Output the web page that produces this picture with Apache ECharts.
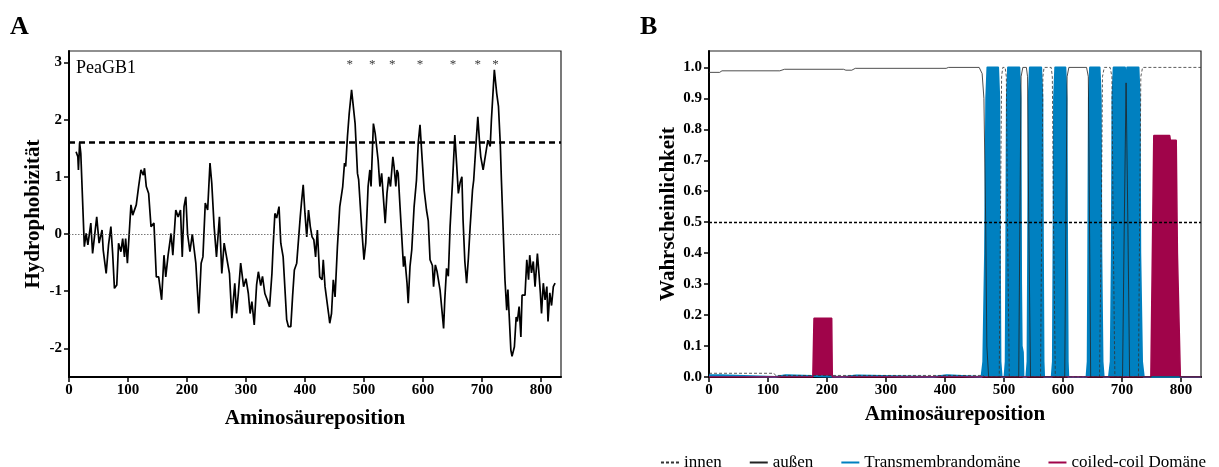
<!DOCTYPE html>
<html>
<head>
<meta charset="utf-8">
<script src="https://cdn.jsdelivr.net/npm/echarts@6/dist/echarts.min.js"></script>
<style>
  html, body { margin: 0; padding: 0; background: #fff; }
  #chart { width: 1219px; height: 467px; }
</style>
</head>
<body>
<div id="chart"></div>
<script>
// ---- Panel A: hydrophobicity profile of PeaGB1 ----
const hydroPos = [12,15,16,18,20,26,29,32,37,40,47,51,56,58,63,67,71,74,77,81,84,88,91,94,96,99,
  105,108,114,118,122,126,128,131,135,139,144,148,152,157,161,164,168,173,176,181,185,189,192,195,198,
  201,205,209,212,215,220,224,227,231,235,239,242,246,250,255,259,263,266,272,276,281,284,287,291,296,
  300,304,307,310,314,318,321,325,328,332,336,340,344,346,349,352,356,359,363,369,372,376,379,382,386,
  392,394,397,400,403,406,409,412,415,418,421,425,429,431,434,440,442,445,448,451,455,459,464,467,469,
  472,475,479,485,489,491,496,500,503,507,510,512,516,519,524,527,530,536,539,542,545,549,551,554,556,
  558,561,567,569,573,575,578,581,585,589,592,595,598,602,606,609,612,616,618,621,624,629,635,637,640,
  643,646,650,654,657,660,663,666,668,671,674,677,680,684,686,690,693,696,698,702,705,710,714,716,721,
  725,728,731,733,736,739,742,744,746,749,751,755,758,760,763,766,768,773,776,779,781,784,787,790,794,
  797,799,801,804,807,810,812,815,818,821,824];
const hydroVal = [1.44,1.35,1.12,1.60,1.41,-0.22,0.01,-0.19,0.19,-0.34,0.30,-0.16,0.07,-0.28,-0.69,-0.19,0.13,-0.34,-0.95,-0.89,-0.16,-0.31,-0.08,-0.40,-0.08,-0.51,
  0.51,0.33,0.51,0.83,1.12,1.03,1.15,0.83,0.71,0.13,0.19,-0.75,-0.75,-1.15,-0.37,-0.75,-0.37,0.01,-0.37,0.42,0.30,0.42,-0.40,0.48,0.65,
  0.00,-0.31,0.00,-0.03,-0.51,-1.39,-0.51,-0.40,0.54,0.42,1.24,0.89,0.13,-0.40,0.30,-0.69,-0.16,-0.34,-0.69,-1.47,-0.86,-1.39,-1.04,-0.51,-0.92,
  -0.78,-1.04,-1.39,-1.18,-1.59,-0.89,-0.66,-0.90,-0.74,-1.04,-1.15,-1.27,-0.69,-0.22,0.36,0.28,0.48,-0.16,-0.40,-1.50,-1.62,-1.62,-1.09,-0.63,-0.51,
  0.30,0.54,0.86,0.36,-0.05,0.42,0.13,-0.05,-0.10,-0.40,0.07,-0.75,-0.80,-0.45,-0.92,-1.39,-1.56,-1.39,-0.80,-1.10,-0.22,0.48,0.83,1.24,1.18,
  1.70,2.11,2.52,1.93,1.06,0.95,0.13,-0.45,-0.16,0.83,1.12,0.83,1.93,1.76,1.29,0.83,1.06,0.19,0.71,1.00,0.83,1.35,1.18,0.83,1.12,
  1.06,0.50,-0.57,-0.39,-0.86,-1.21,-0.57,-0.28,0.48,0.94,1.59,1.91,1.41,0.77,0.42,0.23,-0.45,-0.55,-0.92,-0.54,-0.66,-0.98,-1.65,-1.15,-0.60,
  -0.74,0.13,0.89,1.73,1.24,0.71,0.90,1.00,0.24,-0.48,-0.86,-0.42,0.13,0.77,0.94,1.59,2.05,1.59,1.35,1.12,1.15,1.64,1.53,1.99,2.87,
  2.46,2.23,1.59,0.94,0.07,-0.80,-1.33,-0.97,-1.39,-2.03,-2.14,-1.97,-1.45,-1.53,-1.27,-1.80,-1.07,-1.07,-0.45,-0.80,-0.37,-0.68,-0.48,-0.92,-0.34,
  -0.74,-1.03,-1.39,-0.86,-1.15,-0.92,-1.53,-1.03,-1.25,-0.92,-0.86];
const hydroThreshold = 1.6;
// peaks marked with an asterisk
const starPos = [476, 514, 548, 595, 651, 693, 723];
const starLevel = 2.97;

// ---- Panel B: membrane topology probabilities ----
const innenPos = [0,110,113,464,468,492,494,496,498,502,504,506,509,562,564,566,568,580,582,584,587,
  662,665,667,670,680,683,685,688,728,730,732,735,834];
const innenVal = [0.012,0.012,0.005,0.005,0,0,0.5,0.97,1,1,0.97,0.5,0,0,0.5,0.97,1,1,0.97,0.5,0,
  0,0.5,0.97,1,1,0.97,0.5,0,0,0.5,0.97,1,1];

const aussenPos = [0,18,22,120,128,228,232,242,248,402,406,458,463,466,469,471,474,525,527,529,532,538,540,542,545,
  603,605,607,610,640,643,645,647,701,704,707,710,713,834];
const aussenVal = [0.984,0.984,0.989,0.989,0.994,0.994,0.991,0.991,0.997,0.997,1,1,0.98,0.9,0.5,0.1,0,0,0.5,0.97,1,1,0.97,0.5,0,
  0,0.5,0.97,1,1,0.97,0.5,0,0,0.5,0.95,0.5,0,0];

const tmPos = [0,20,22,112,114,130,132,228,230,250,252,380,382,403,405,
  462,465,468,470,472,490,492,493,494,496,
  501,503,504,505,507,526,528,529,530,532,533,
  538,540,541,542,544,563,565,566,567,568,
  581,583,584,585,587,604,606,607,608,609,
  640,642,643,644,646,662,664,665,667,669,
  678,681,683,684,686,705,707,709,728,730,731,734,737,834];
const tmVal = [0.006,0.006,0,0,0.006,0.006,0,0,0.005,0.005,0,0,0.006,0.006,0,
  0,0.05,0.4,0.9,1,1,0.9,0.4,0.05,0,
  0,0.05,0.4,0.9,1,1,0.9,0.3,0.1,0.08,0,
  0,0.05,0.4,0.9,1,1,0.9,0.4,0.05,0,
  0,0.05,0.4,0.9,1,1,0.9,0.4,0.05,0,
  0,0.05,0.4,0.9,1,1,0.9,0.4,0.05,0,
  0,0.05,0.4,0.9,1,1,0.95,1,1,0.9,0.4,0.05,0,0];

const coilPos = [0,176,178,208,209,749,754,781,782,792,794,799,834];
const coilVal = [0,0,0.19,0.19,0,0,0.78,0.78,0.765,0.765,0.4,0,0];

// ---- axis ticks ----
const xTicks = [0,100,200,300,400,500,600,700,800];
const yTicksA = [-2,-1,0,1,2,3];
const yTicksB = [0,0.1,0.2,0.3,0.4,0.5,0.6,0.7,0.8,0.9,1.0];

const FONT = '"Liberation Serif", "Times New Roman", serif';
const BLUE = '#0080C0';
const CRIMSON = '#A0044A';

const zip = (xs, ys) => xs.map((x, i) => [x, ys[i]]);

function xAxisCfg(gridIndex, nameGap) {
  return {
    type: 'value', gridIndex, min: 0, max: 834,
    name: 'Aminosäureposition', nameLocation: 'middle', nameGap,
    nameTextStyle: { fontFamily: FONT, fontWeight: 'bold', fontSize: 21, color: '#000' },
    axisLine: { show: true, onZero: false, lineStyle: { color: '#000', width: 2 } },
    axisTick: { show: true, length: 5, customValues: xTicks, lineStyle: { color: '#000', width: 1.5 } },
    axisLabel: { customValues: xTicks, fontFamily: FONT, fontWeight: 'bold', fontSize: 15, color: '#000', margin: 6 },
    splitLine: { show: false }
  };
}

function yAxisCfg(gridIndex, name, min, max, ticks, fmt, nameGap) {
  return {
    type: 'value', gridIndex, min, max,
    name, nameLocation: 'middle', nameGap,
    nameTextStyle: { fontFamily: FONT, fontWeight: 'bold', fontSize: 21, color: '#000' },
    axisLine: { show: true, onZero: false, lineStyle: { color: '#000', width: 2 } },
    axisTick: { show: true, length: 5, customValues: ticks, lineStyle: { color: '#000', width: 1.5 } },
    axisLabel: { customValues: ticks, formatter: fmt, fontFamily: FONT, fontWeight: 'bold', fontSize: 15, color: '#000', margin: 7 },
    splitLine: { show: false }
  };
}

const chart = echarts.init(document.getElementById('chart'), null, { renderer: 'canvas' });

chart.setOption({
  animation: false,
  backgroundColor: '#fff',
  grid: [
    { left: 69, top: 51, width: 492, height: 326, show: true, borderColor: '#222', borderWidth: 1.2, backgroundColor: 'transparent' },
    { left: 709, top: 51, width: 492, height: 326, show: true, borderColor: '#222', borderWidth: 1.2, backgroundColor: 'transparent' }
  ],
  xAxis: [xAxisCfg(0, 31), xAxisCfg(1, 27)],
  yAxis: [
    yAxisCfg(0, 'Hydrophobizität', -2.5, 3.2, yTicksA, v => String(v), 25),
    yAxisCfg(1, 'Wahrscheinlichkeit', 0, 1.053, yTicksB, v => v.toFixed(1), 27)
  ],
  legend: {
    data: ['innen', 'außen', 'Transmembrandomäne', 'coiled-coil Domäne'],
    right: 8, top: 449,
    itemWidth: 18, itemHeight: 10, itemGap: 27,
    itemStyle: { opacity: 0 },
    textStyle: { fontFamily: FONT, fontSize: 17, color: '#000' }
  },
  graphic: [
    { type: 'text', left: 10, top: 14, style: { text: 'A', font: 'bold 26px ' + FONT, fill: '#000' } },
    { type: 'text', left: 640, top: 14, style: { text: 'B', font: 'bold 26px ' + FONT, fill: '#000' } },
    { type: 'text', left: 76, top: 59, style: { text: 'PeaGB1', font: '18px ' + FONT, fill: '#000' } }
  ],
  series: [
    {
      name: 'Hydrophobizität', type: 'line', xAxisIndex: 0, yAxisIndex: 0,
      data: zip(hydroPos, hydroVal), symbol: 'none',
      lineStyle: { color: '#000', width: 1.7 },
      markLine: {
        silent: true, symbol: ['none', 'none'], label: { show: false },
        data: [
          { yAxis: hydroThreshold, lineStyle: { color: '#000', type: [6, 4], width: 2.6 } },
          { yAxis: 0, lineStyle: { color: '#555', type: [1.5, 1.5], width: 0.8 } }
        ]
      }
    },
    {
      name: 'Stern', type: 'scatter', xAxisIndex: 0, yAxisIndex: 0,
      data: starPos.map(p => [p, starLevel]), symbolSize: 1,
      itemStyle: { color: 'rgba(0,0,0,0)' },
      label: { show: true, formatter: '*', position: 'inside', fontFamily: FONT, fontSize: 13, color: '#000' }
    },
    {
      name: 'Transmembrandomäne', type: 'line', xAxisIndex: 1, yAxisIndex: 1,
      data: zip(tmPos, tmVal), symbol: 'none', color: BLUE,
      lineStyle: { color: BLUE, width: 2, join: 'round' },
      areaStyle: { color: BLUE, opacity: 1 }
    },
    {
      name: 'coiled-coil Domäne', type: 'line', xAxisIndex: 1, yAxisIndex: 1,
      data: zip(coilPos, coilVal), symbol: 'none', color: CRIMSON,
      lineStyle: { color: CRIMSON, width: 1.5 },
      areaStyle: { color: CRIMSON, opacity: 1 },
      markLine: {
        silent: true, symbol: ['none', 'none'], label: { show: false },
        data: [{ yAxis: 0.5, lineStyle: { color: '#000', type: [3, 2], width: 1.3 } }]
      }
    },
    {
      name: 'innen', type: 'line', xAxisIndex: 1, yAxisIndex: 1,
      data: zip(innenPos, innenVal), symbol: 'none', color: '#333',
      lineStyle: { color: '#333', width: 0.8, type: [3, 2] }
    },
    {
      name: 'außen', type: 'line', xAxisIndex: 1, yAxisIndex: 1,
      data: zip(aussenPos, aussenVal), symbol: 'none', color: '#222',
      lineStyle: { color: '#222', width: 0.8 }
    }
  ]
});
</script>
</body>
</html>
